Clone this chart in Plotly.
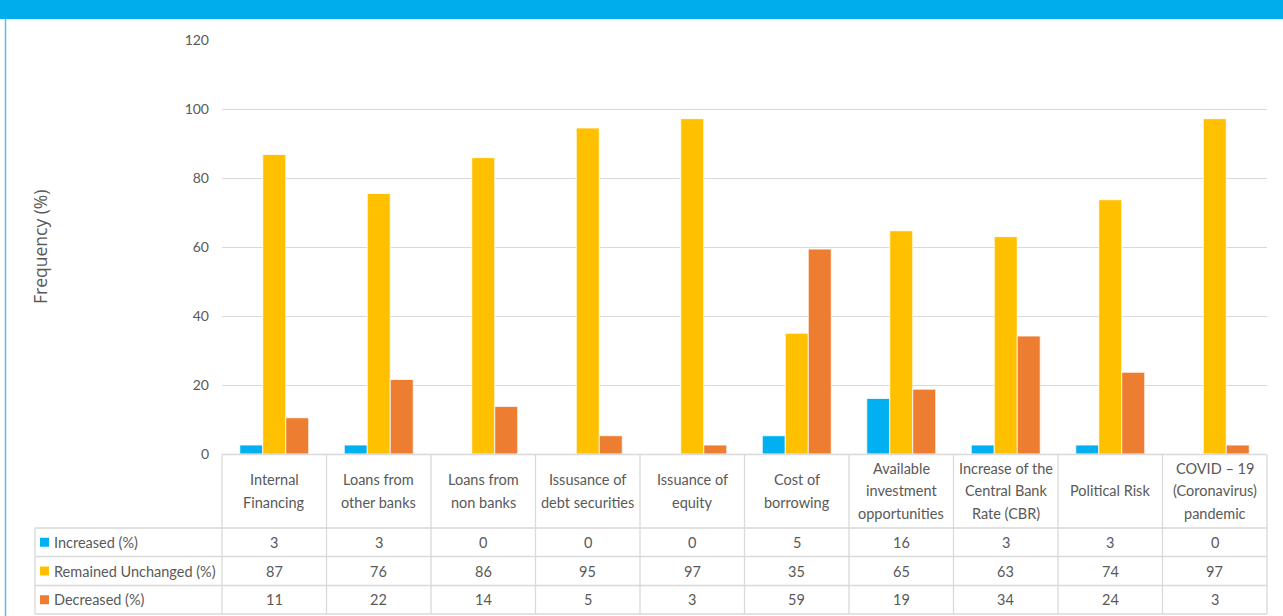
import plotly.graph_objects as go

# ---------------- data ----------------
categories = ["Internal\nFinancing", "Loans from\nother banks", "Loans from\nnon banks",
              "Issusance of\ndebt securities", "Issuance of\nequity", "Cost of\nborrowing",
              "Available\ninvestment\nopportunities", "Increase of the\nCentral Bank\nRate (CBR)",
              "Political Risk", "COVID – 19\n(Coronavirus)\npandemic"]
series_names = ["Increased (%)", "Remained Unchanged (%)", "Decreased (%)"]
increased = [2.6, 2.6, 0, 0, 0, 5.3, 16.1, 2.6, 2.6, 0]
unchanged = [86.8, 75.5, 85.9, 94.5, 97.2, 35.0, 64.7, 63.0, 73.7, 97.2]
decreased = [10.5, 21.6, 13.8, 5.3, 2.6, 59.4, 18.8, 34.2, 23.7, 2.6]
increased_tbl = [3, 3, 0, 0, 0, 5, 16, 3, 3, 0]
unchanged_tbl = [87, 76, 86, 95, 97, 35, 65, 63, 74, 97]
decreased_tbl = [11, 22, 14, 5, 3, 59, 19, 34, 24, 3]
y_ticks = [0, 20, 40, 60, 80, 100, 120]

colors = ["#00B0F0", "#FFC000", "#ED7D31"]
W, H = 1283, 616
L, R, T, B = 222, 16, 40, 162
pw, ph = W - L - R, H - T - B
FONT = "Lato"
TXT = "#595959"
GRID = "#d9d9d9"


def px(x):
    return (x - L) / pw


def py(y):
    return (H - B - y) / ph


xcat = [c.replace("\n", " ") for c in categories]
fig = go.Figure()
for name, vals, col in zip(series_names, [increased, unchanged, decreased], colors):
    fig.add_trace(go.Bar(x=xcat, y=vals, name=name, marker=dict(color=col, line=dict(color="white", width=0.8)),
                         showlegend=False, hoverinfo="y"))

shapes = []
ann = []
n = len(categories)
# header bar and left border
shapes.append(dict(type="rect", xref="paper", yref="paper", x0=px(0), x1=px(W), y0=py(19), y1=py(0),
                   fillcolor="#00ADEC", line=dict(width=0), layer="above"))
shapes.append(dict(type="line", xref="paper", yref="paper", x0=px(5.5), x1=px(5.5), y0=py(19), y1=py(H),
                   line=dict(color="#4FC1EE", width=1.5)))

# table geometry
row_edges = [454.5, 528, 556.5, 585.5, 614]
tbl_left = 35
line = dict(color=GRID, width=1.3)
shapes.append(dict(type="line", xref="paper", yref="paper", x0=0, x1=1, y0=py(row_edges[0]), y1=py(row_edges[0]), line=line))
for ye in row_edges[1:]:
    shapes.append(dict(type="line", xref="paper", yref="paper", x0=px(tbl_left), x1=1, y0=py(ye), y1=py(ye), line=line))
for i in range(n + 1):
    xx = i / n
    shapes.append(dict(type="line", xref="paper", yref="paper", x0=xx, x1=xx, y0=py(row_edges[0]), y1=py(row_edges[-1]), line=line))
shapes.append(dict(type="line", xref="paper", yref="paper", x0=px(tbl_left), x1=px(tbl_left), y0=py(row_edges[1]), y1=py(row_edges[-1]), line=line))

# category header text, line by line
hdr_c = (row_edges[0] + row_edges[1]) / 2 - 0.5
lh = 22.5
for i, c in enumerate(categories):
    lines = c.split("\n")
    for k, t in enumerate(lines):
        yc = hdr_c + (k - (len(lines) - 1) / 2) * lh
        ann.append(dict(x=xcat[i], xref="x", y=py(yc), yref="paper", text=t, showarrow=False,
                        xanchor="center", yanchor="middle", font=dict(family=FONT, size=14.5, color=TXT)))

# data rows
for r, (name, vals, col) in enumerate(zip(series_names, [increased_tbl, unchanged_tbl, decreased_tbl], colors)):
    yc = (row_edges[r + 1] + row_edges[r + 2]) / 2
    shapes.append(dict(type="rect", xref="paper", yref="paper", x0=px(40), x1=px(49), y0=py(yc + 4.5), y1=py(yc - 4.5),
                       fillcolor=col, line=dict(width=0)))
    ann.append(dict(x=px(52), xref="paper", y=py(yc), yref="paper", text=name, showarrow=False,
                    xanchor="left", yanchor="middle", font=dict(family=FONT, size=14.5, color=TXT)))
    for i, v in enumerate(vals):
        ann.append(dict(x=xcat[i], xref="x", y=py(yc), yref="paper", text=str(v), showarrow=False,
                        xanchor="center", yanchor="middle", font=dict(family=FONT, size=14.5, color=TXT)))

# y title
ann.append(dict(x=px(40), xref="paper", y=py((T + H - B) / 2), yref="paper", text="Frequency (%)", textangle=-90,
                showarrow=False, xanchor="center", yanchor="middle", font=dict(family="Open Sans", size=17.5, color=TXT)))

fig.update_layout(
    width=W, height=H, margin=dict(l=L, r=R, t=T, b=B, pad=0),
    paper_bgcolor="white", plot_bgcolor="white",
    barmode="group", bargap=0.34, bargroupgap=0,
    shapes=shapes, annotations=ann,
    xaxis=dict(showticklabels=False, showgrid=False, zeroline=False, showline=False, ticks=""),
    yaxis=dict(range=[0, 120], tickvals=y_ticks, showgrid=True, gridcolor=GRID, gridwidth=1.3,
               zeroline=False, showline=False, ticks="", ticklabelstandoff=12,
               tickfont=dict(family=FONT, size=14, color=TXT)),
    font=dict(family=FONT),
)
fig.write_html("out.html", config={"displayModeBar": False},
               post_script="document.body.style.margin='0';document.body.style.overflow='hidden';")
